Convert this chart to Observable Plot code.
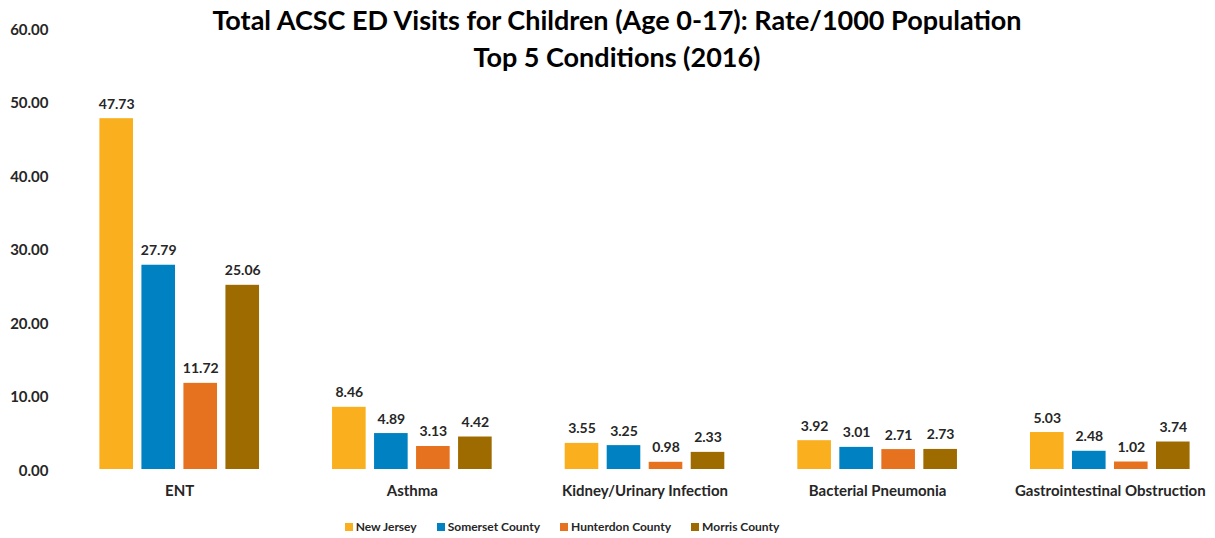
<!DOCTYPE html>
<html>
<head>
<meta charset="utf-8">
<script src="https://cdn.jsdelivr.net/npm/d3@7"></script>
<script src="https://cdn.jsdelivr.net/npm/@observablehq/plot@0.6"></script>
<style>
  html, body { margin: 0; padding: 0; background: #fff; overflow: hidden; }
  #wrap { position: relative; width: 1215px; height: 538px; font-family: Lato, "Open Sans", sans-serif; }
  #title { position: absolute; top: 1px; left: 0; width: 1215px; padding-left: 19px; box-sizing: border-box;
           text-align: center; font-weight: bold; font-size: 27px; line-height: 37px; color: #000; z-index: 2; }
  #legend { position: absolute; top: 519px; left: 0; width: 1215px; padding-right: 91px; box-sizing: border-box;
            display: flex; justify-content: center; gap: 20px; font-weight: bold; font-size: 12px; color: #262626; z-index: 2; }
  #legend .item { display: flex; align-items: center; gap: 3px; }
  #legend .sw { width: 8px; height: 8px; display: inline-block; }
  #chart { position: absolute; top: 0; left: 0; }
</style>
</head>
<body>
<div id="wrap">
  <div id="title">Total ACSC ED Visits for Children (Age 0-17): Rate/1000 Population<br>Top 5 Conditions (2016)</div>
  <div id="chart"></div>
  <div id="legend"></div>
</div>
<script>
const conditions = ["ENT", "Asthma", "Kidney/Urinary Infection", "Bacterial Pneumonia", "Gastrointestinal Obstruction"];
const series = ["New Jersey", "Somerset County", "Hunterdon County", "Morris County"];
const newJersey = [47.73, 8.46, 3.55, 3.92, 5.03];
const somersetCounty = [27.79, 4.89, 3.25, 3.01, 2.48];
const hunterdonCounty = [11.72, 3.13, 0.98, 2.71, 1.02];
const morrisCounty = [25.06, 4.42, 2.33, 2.73, 3.74];
const yTicks = [0, 10, 20, 30, 40, 50, 60];
const colors = ["#F9AF1E", "#0081C2", "#E6721F", "#9E6B00"];

const seriesValues = [newJersey, somersetCounty, hunterdonCounty, morrisCounty];
const data = conditions.flatMap((c, i) => series.map((s, j) => ({condition: c, series: s, value: seriesValues[j][i]})));

const chart = Plot.plot({
  width: 1215,
  height: 538,
  marginTop: 28,
  marginBottom: 69,
  marginLeft: 91,
  marginRight: 17,
  style: {fontFamily: "Lato, 'Open Sans', sans-serif", fontSize: "14px", fontWeight: "bold", color: "#262626", background: "transparent"},
  fx: {domain: conditions, paddingInner: 0.2416, paddingOuter: 0, round: false, label: null},
  x: {domain: series, padding: 0.2, round: false, axis: null},
  y: {domain: [0, 60], label: null},
  color: {domain: series, range: colors},
  marks: [
    Plot.axisY({ticks: yTicks, tickFormat: d => d.toFixed(2), tickSize: 0, tickPadding: 43, label: null, fontSize: 15, dy: 1.5}),
    Plot.axisFx({anchor: "bottom", tickSize: 0, tickPadding: 16, label: null, fontSize: 15}),
    Plot.barY(data, {fx: "condition", x: "series", y: "value", fill: "series"}),
    Plot.text(data, {fx: "condition", x: "series", y: "value", text: d => d.value.toFixed(2), lineAnchor: "bottom", dy: -10, fill: "#262626", fontSize: 14})
  ]
});
document.getElementById("chart").appendChild(chart);

const legend = document.getElementById("legend");
series.forEach((s, i) => {
  const item = document.createElement("div");
  item.className = "item";
  const sw = document.createElement("span");
  sw.className = "sw";
  sw.style.background = colors[i];
  const t = document.createElement("span");
  t.textContent = s;
  item.appendChild(sw);
  item.appendChild(t);
  legend.appendChild(item);
});
</script>
</body>
</html>
